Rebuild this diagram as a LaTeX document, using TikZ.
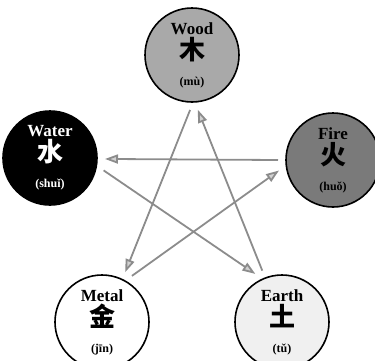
\documentclass[tikz,border=0pt]{standalone}
\usepackage{fontspec}
\setmainfont{Liberation Serif}
\newfontfamily\cjk{Noto Sans CJK SC}
\usepackage{xcolor}
\usepackage{tikz}
\usetikzlibrary{arrows.meta}

\definecolor{woodgray}{HTML}{A9A9A9}
\definecolor{firegray}{HTML}{7A7A7A}
\definecolor{earthgray}{HTML}{F0F0F0}
\definecolor{linegray}{HTML}{8C8C8C}

\begin{document}
\begin{tikzpicture}[
        x=1pt, y=-1pt,
        element/.style = {draw, circle, line width=1.6pt, minimum size=94pt, inner sep=0pt, outer sep=8pt, align=center, font=\bfseries\fontsize{17}{24}\selectfont},
        arrow/.style = {-{Triangle[length=13pt, width=9pt, fill=linegray!40]}, draw=linegray, line width=1.8pt}
      ]
      \useasboundingbox (0,0) rectangle (375,360);

      % ================= ELEMENTS =================
      \node[element, fill=woodgray] (wood) at (192,55) {Wood\\[1pt]{\cjk\fontsize{26}{28}\selectfont 木}\\[2pt]{\fontsize{12}{13}\selectfont (mù)}};
      \node[element, fill=black, text=white] (water) at (50,158) {Water\\[1pt]{\cjk\fontsize{26}{28}\selectfont 水}\\[2pt]{\fontsize{12}{13}\selectfont (shuǐ)}};
      \node[element, fill=firegray] (fire) at (333,160) {Fire\\[1pt]{\cjk\fontsize{26}{28}\selectfont 火}\\[2pt]{\fontsize{12}{13}\selectfont (huǒ)}};
      \node[element, fill=white] (metal) at (102,322) {Metal\\[1pt]{\cjk\fontsize{26}{28}\selectfont 金}\\[2pt]{\fontsize{12}{13}\selectfont (jīn)}};
      \node[element, fill=earthgray] (earth) at (282,322) {Earth\\[1pt]{\cjk\fontsize{26}{28}\selectfont 土}\\[2pt]{\fontsize{12}{13}\selectfont (tǔ)}};

      % ================= CYCLE =================
      \draw[arrow] (wood.-92) -- (metal.65);
      \draw[arrow] (earth.111) -- (wood.-84);
      \draw[arrow] (fire.180) -- (water.-1);
      \draw[arrow] (water.-13) -- (earth.119);
      \draw[arrow] (metal.57) -- (fire.-169);

    \end{tikzpicture}
\end{document}
